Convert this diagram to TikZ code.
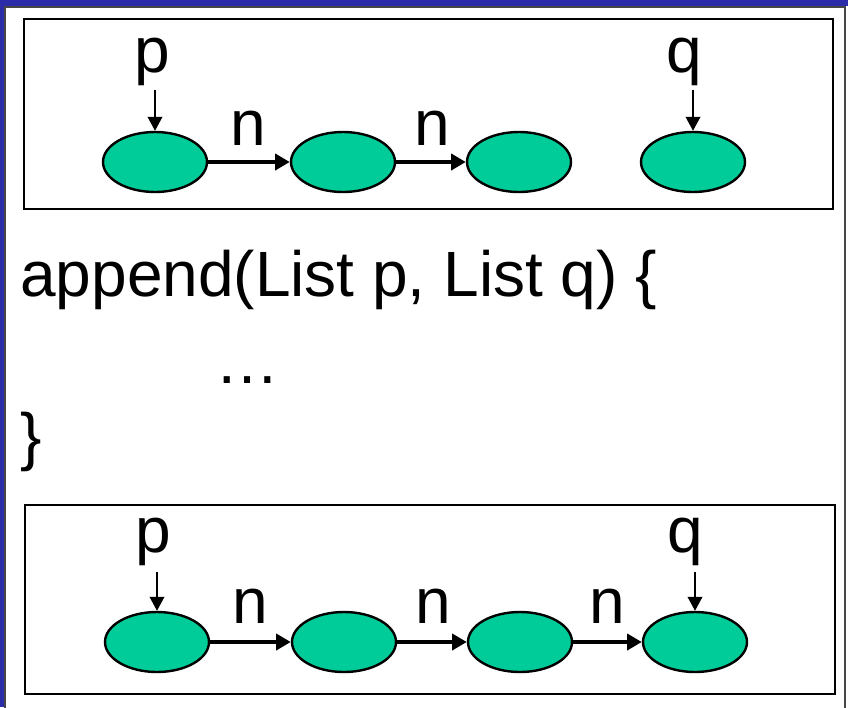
\documentclass[tikz,border=0pt]{standalone}
\usepackage{fontspec}
\setmainfont{Liberation Sans}
\usetikzlibrary{shapes.geometric,arrows.meta}
\definecolor{slideblue}{RGB}{44,44,168}
\definecolor{nodegreen}{RGB}{0,204,153}
\definecolor{panelline}{RGB}{70,70,70}
\begin{document}
\begin{tikzpicture}[x=0.75pt,y=-0.75pt,
  cell/.style={ellipse,draw=black,line width=1.8pt,fill=nodegreen,minimum width=78pt,minimum height=45pt,inner sep=0pt},
  link/.style={line width=3.2pt,-{Triangle[length=11pt,width=12pt]}},
  ptr/.style={line width=1.2pt,-{Triangle[length=10.5pt,width=11pt]}},
  lbl/.style={anchor=base,inner sep=0pt,font=\fontsize{48}{58}\selectfont},
  code/.style={anchor=base west,inner sep=0pt,font=\fontsize{48}{58}\selectfont},
  frame/.style={draw=black,line width=2pt}]
\useasboundingbox (0,0) rectangle (848,707);
% slide background
\fill[slideblue] (0,0) rectangle (848,707);
\fill[white] (4,6) rectangle (848,707);
\draw[panelline,line width=1.5pt] (4.5,710) -- (4.5,6.5) -- (845,6.5) -- (845,710);

% top box
\draw[frame] (24,19) rectangle (833,209);
\node[cell] (e1) at (155,162) {};
\node[cell] (e2) at (343,162) {};
\node[cell] (e3) at (519,162) {};
\node[cell] (e4) at (693,162) {};
\node[lbl] (p1) at (152,72) {p};
\node[lbl] (q1) at (684,72) {q};
\node[lbl] (n1) at (248,145) {n};
\node[lbl] (n2) at (432,145) {n};
\coordinate (ps1) at (155,90);
\coordinate (qs1) at (693,90);
\draw[ptr] (ps1) -- (e1);
\draw[ptr] (qs1) -- (e4);
\draw[link] (e1) -- (e2);
\draw[link] (e2) -- (e3);

% code text
\node[code] (c1) at (20,296) {append(List p, List q) \{};
\node[code] (c2) at (215,383) {…};
\node[code] (c3) at (20,458) {\}};

% bottom box
\draw[frame] (25,505) rectangle (835,694);
\node[cell] (f1) at (157,642) {};
\node[cell] (f2) at (344,642) {};
\node[cell] (f3) at (520,642) {};
\node[cell] (f4) at (695,642) {};
\node[lbl] (p2) at (153,552) {p};
\node[lbl] (q2) at (685,552) {q};
\node[lbl] (m1) at (250,623) {n};
\node[lbl] (m2) at (433,623) {n};
\node[lbl] (m3) at (607,623) {n};
\coordinate (ps2) at (157,572);
\coordinate (qs2) at (695,572);
\draw[ptr] (ps2) -- (f1);
\draw[ptr] (qs2) -- (f4);
\draw[link] (f1) -- (f2);
\draw[link] (f2) -- (f3);
\draw[link] (f3) -- (f4);
\end{tikzpicture}
\end{document}
